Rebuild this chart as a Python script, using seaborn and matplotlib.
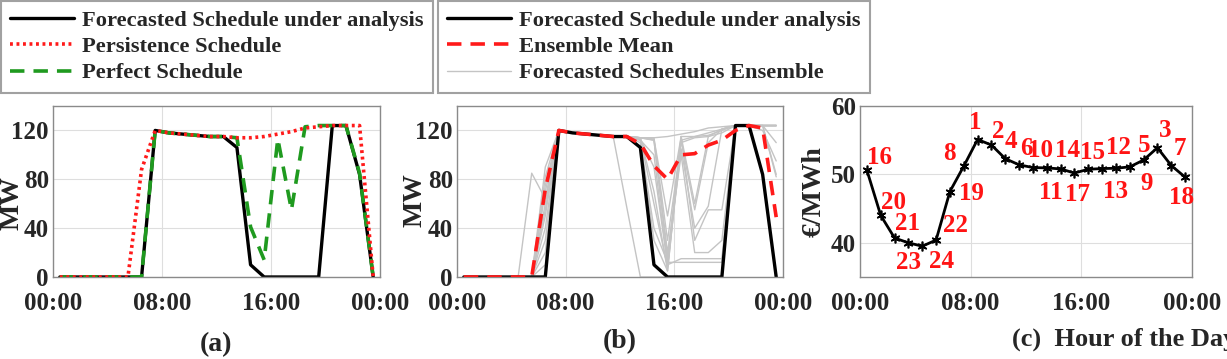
import numpy as np
import pandas as pd
import matplotlib
matplotlib.use("Agg")
import matplotlib.pyplot as plt
from matplotlib.lines import Line2D
import seaborn as sns

# ---- data (hourly values) ----
hours = np.arange(24) + 0.5
tick_pos = [0, 8, 16, 24]
tick_labels = ["00:00", "08:00", "16:00", "00:00"]

forecast_mw = [0, 0, 0, 0, 0, 0, 0, 120, 118, 117, 116, 115, 115, 106, 10, 0,
               0, 0, 0, 0, 124, 124, 84, 0]
persistence_mw = [0, 0, 0, 0, 0, 0, 88, 120, 118, 117, 116, 115, 115, 114, 114, 115,
                  117, 119, 122, 123, 124, 124, 124, 0]
perfect_mw = [0, 0, 0, 0, 0, 0, 0, 120, 118, 117, 116, 115, 115, 114, 41, 14,
              113, 55, 123, 124, 124, 124, 85, 0]
ensemble_mean_mw = [0, 0, 0, 0, 0, 0, 72, 120, 118, 117, 116, 115, 115, 109, 91, 80,
                    100, 101, 108, 112, 120, 124, 122, 49]
ensemble_mw = [
    [0, 0, 0, 0, 0, 85, 64, 120, 118, 117, 116, 115, 115, 114, 114, 115, 117, 119, 122, 123, 124, 124, 124, 124],
    [0, 0, 0, 0, 0, 0, 82, 120, 118, 117, 116, 115, 57, 0, 0, 0, 0, 0, 0, 0, 124, 124, 124, 124],
    [0, 0, 0, 0, 0, 0, 40, 120, 118, 117, 116, 115, 115, 113, 60, 8, 115, 60, 115, 121, 124, 124, 124, 124],
    [0, 0, 0, 0, 0, 0, 90, 120, 118, 117, 116, 115, 115, 112, 30, 5, 112, 115, 118, 121, 124, 124, 124, 84],
    [0, 0, 0, 0, 0, 0, 20, 120, 118, 117, 116, 115, 115, 114, 112, 15, 112, 55, 110, 121, 124, 124, 124, 82],
    [0, 0, 0, 0, 0, 0, 60, 120, 118, 117, 116, 115, 115, 110, 40, 12, 12, 12, 12, 12, 124, 124, 124, 124],
    [0, 0, 0, 0, 0, 0, 75, 120, 118, 117, 116, 115, 115, 114, 112, 20, 100, 20, 20, 30, 124, 124, 85, 0],
    [0, 0, 0, 0, 0, 0, 50, 120, 118, 117, 116, 115, 115, 114, 70, 5, 115, 30, 55, 55, 124, 124, 124, 124],
    [0, 0, 0, 0, 0, 0, 30, 120, 118, 117, 116, 115, 115, 113, 90, 10, 15, 15, 15, 15, 124, 124, 124, 110],
    [0, 0, 0, 0, 0, 0, 70, 120, 118, 117, 116, 115, 115, 114, 114, 30, 110, 114, 115, 118, 124, 124, 124, 124],
    [0, 0, 0, 0, 0, 0, 10, 120, 118, 117, 116, 115, 115, 112, 100, 10, 105, 40, 58, 121, 124, 124, 124, 124],
    [0, 0, 0, 0, 0, 0, 55, 120, 118, 117, 116, 115, 115, 114, 113, 50, 115, 115, 116, 120, 124, 124, 120, 95],
]
price_eur = [50.6, 44.0, 40.7, 40.0, 39.5, 40.4, 47.5, 51.2, 55.1, 54.3, 52.3, 51.4,
             51.0, 50.95, 50.8, 50.2, 50.75, 50.85, 50.9, 51.1, 52.1, 53.9, 51.3, 49.6]
price_rank = [16, 20, 21, 23, 24, 22, 19, 8, 1, 2, 4, 6,
              10, 11, 14, 17, 15, 13, 12, 9, 5, 3, 7, 18]

# label placement for the rank numbers (offset in pixels)
rank_offsets = [(13, 13), (13, 13), (13, 15), (0, -20), (19, -15), (19, 15),
                (22, -2), (-14, 13), (-2, 17), (7, 13), (6, 17), (7, 16),
                (8, 17), (4, -25), (7, 18), (3, -21), (4, 17), (13, -23),
                (3, 21), (17, -17), (1, 15), (8, 17), (9, 17), (-4, -20)]

sns.set_style("white")
plt.rcParams["font.family"] = ["Liberation Serif", "DejaVu Serif"]
plt.rcParams["font.weight"] = "bold"
plt.rcParams["axes.labelweight"] = "bold"

TXT = "#262626"
W, H = 1227, 359
fig = plt.figure(figsize=(W / 100, H / 100), dpi=100)


def px_axes(left, right, top=106, bottom=277):
    return fig.add_axes([left / W, 1 - bottom / H, (right - left) / W, (bottom - top) / H])


def style_axes(ax, yticks, ylim):
    ax.set_xlim(0, 24)
    ax.set_ylim(*ylim)
    ax.set_xticks(tick_pos)
    ax.set_xticklabels(tick_labels)
    ax.set_yticks(yticks)
    ax.grid(True, color="#dedede", lw=0.8)
    ax.tick_params(direction="in", length=4, width=0.8, colors="#8a8a8a",
                   labelcolor=TXT, labelsize=18)
    ax.tick_params(axis="x", pad=11)
    ax.tick_params(axis="y", pad=3)
    for s in ax.spines.values():
        s.set_color("#8a8a8a")
        s.set_linewidth(1.0)
    ax.set_xlabel("")


# ---- (a) ----
ax_a = px_axes(53, 380)
sns.lineplot(x=hours, y=perfect_mw, ax=ax_a, color="#1f9a1f", lw=2.6,
             linestyle=(0, (4, 2.5)), zorder=3)
sns.lineplot(x=hours, y=forecast_mw, ax=ax_a, color="black", lw=2.4, zorder=2)
sns.lineplot(x=hours, y=persistence_mw, ax=ax_a, color="#ff1a1a", lw=2.6,
             linestyle=(0, (0.8, 1.0)), zorder=4)
style_axes(ax_a, [0, 40, 80, 120], (0, 140))
ax_a.set_ylabel("MW", fontsize=20, color=TXT)
ax_a.yaxis.set_label_coords(-0.086, 0.43)

# ---- (b) ----
ax_b = px_axes(457, 783)
ens = pd.DataFrame({
    "hour": np.tile(hours, len(ensemble_mw)),
    "mw": np.concatenate(ensemble_mw),
    "member": np.repeat(np.arange(len(ensemble_mw)), len(hours)),
})
sns.lineplot(data=ens, x="hour", y="mw", units="member", estimator=None,
             ax=ax_b, color="#c4c4c4", lw=1.0, zorder=1)
sns.lineplot(x=hours, y=forecast_mw, ax=ax_b, color="black", lw=2.4, zorder=2)
sns.lineplot(x=hours, y=ensemble_mean_mw, ax=ax_b, color="#ff1a1a", lw=2.6,
             linestyle=(0, (4, 2.5)), zorder=3)
style_axes(ax_b, [0, 40, 80, 120], (0, 140))
ax_b.set_ylabel("MW", fontsize=20, color=TXT)
ax_b.yaxis.set_label_coords(-0.09, 0.45)

# ---- (c) ----
ax_c = px_axes(860, 1192)
sns.lineplot(x=hours, y=price_eur, ax=ax_c, color="black", lw=2.0,
             marker=(6, 2, 0), markersize=7, markeredgewidth=1.2,
             markeredgecolor="black")
for h, p, r, off in zip(hours, price_eur, price_rank, rank_offsets):
    ax_c.annotate(str(r), (h, p), xytext=off, textcoords="offset pixels",
                  ha="center", va="center", color="#ff1414", fontsize=18,
                  fontweight="bold")
style_axes(ax_c, [40, 50, 60], (35, 60))
ax_c.set_ylabel("€/MWh", fontsize=20, color=TXT)
ax_c.yaxis.set_label_coords(-0.10, 0.5)

# ---- panel captions ----
fig.text(216 / W, 1 - 345 / H, "(a)", ha="center", va="center", fontsize=20, color=TXT)
fig.text(620 / W, 1 - 342 / H, "(b)", ha="center", va="center", fontsize=20, color=TXT)
fig.text(1012 / W, 1 - 339 / H, "(c)  Hour of the Day", ha="left", va="center",
         fontsize=19, color=TXT)

# ---- legends ----
leg_kw = dict(loc="upper left", bbox_transform=fig.transFigure, frameon=True,
              fancybox=False, edgecolor="#8a8a8a", fontsize=16.2,
              handlelength=2.84, handletextpad=0.36, labelspacing=0.25,
              borderpad=0.4, borderaxespad=0)
h1 = [Line2D([], [], color="black", lw=2.4),
      Line2D([], [], color="#ff1a1a", lw=2.6, linestyle=(0, (0.8, 1.0))),
      Line2D([], [], color="#1f9a1f", lw=2.6, linestyle=(0, (4, 2.5)))]
l1 = fig.legend(h1, ["Forecasted Schedule under analysis", "Persistence Schedule",
                     "Perfect Schedule"], bbox_to_anchor=(1 / W, 1 - 1 / H), **leg_kw)
h2 = [Line2D([], [], color="black", lw=2.4),
      Line2D([], [], color="#ff1a1a", lw=2.6, linestyle=(0, (4, 2.5))),
      Line2D([], [], color="#c4c4c4", lw=1.0)]
l2 = fig.legend(h2, ["Forecasted Schedule under analysis", "Ensemble Mean",
                     "Forecasted Schedules Ensemble"], bbox_to_anchor=(438 / W, 1 - 1 / H), **leg_kw)
for leg in (l1, l2):
    leg.get_frame().set_linewidth(1.5)

fig.savefig("out.png", dpi=100)
